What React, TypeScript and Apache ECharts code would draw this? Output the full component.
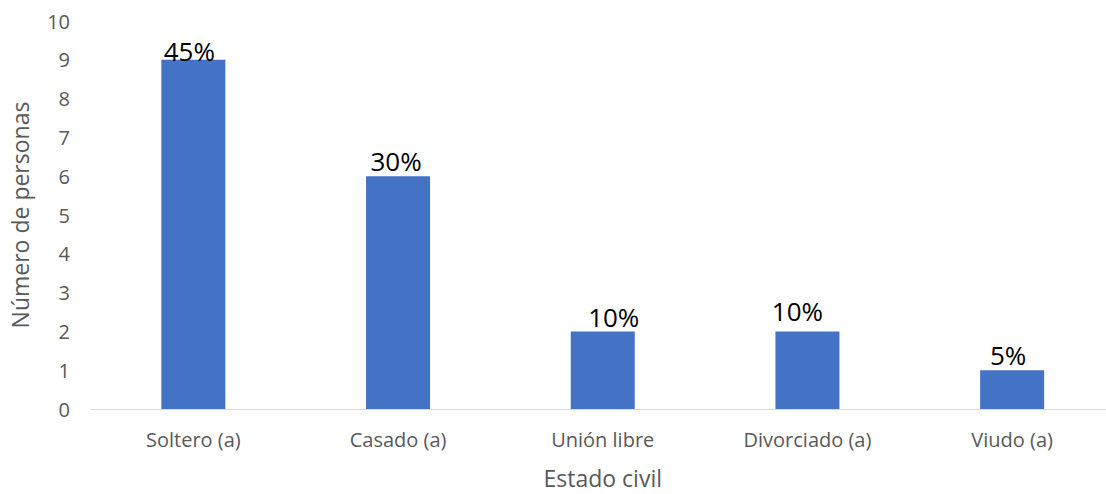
import React, { useEffect, useRef } from "react";
import * as echarts from "echarts";

const categories = ["Soltero (a)", "Casado (a)", "Unión libre", "Divorciado (a)", "Viudo (a)"];
const counts = [9, 6, 2, 2, 1];
const percentLabels = ["45%", "30%", "10%", "10%", "5%"];
// label placement tweaks (style only)
const labelDx = [-4, -2, 11, -10, -4];
const labelDist = [-4, 2, 1, 7, 2];

export default function App() {
  const ref = useRef<HTMLDivElement>(null);
  useEffect(() => {
    const chart = echarts.init(ref.current!, null, { renderer: "svg" });
    chart.setOption({
      animation: false,
      grid: { left: 89.5, right: 15.5, top: 21, bottom: 80, containLabel: false },
      xAxis: {
        type: "category",
        data: categories,
        name: "Estado civil",
        nameLocation: "middle",
        nameGap: 57,
        nameTextStyle: { fontFamily: "Open Sans", fontSize: 23, color: "#595959" },
        axisLine: { show: true, lineStyle: { color: "#d9d9d9", width: 1 } },
        axisTick: { show: false },
        axisLabel: { fontFamily: "Open Sans", fontSize: 20, color: "#595959", margin: 20 },
      },
      yAxis: {
        type: "value",
        min: 0,
        max: 10,
        interval: 1,
        name: "Número de personas",
        nameLocation: "middle",
        nameGap: 60,
        nameTextStyle: { fontFamily: "Open Sans", fontSize: 23, color: "#595959" },
        axisLine: { show: false },
        axisTick: { show: false },
        splitLine: { show: false },
        axisLabel: { fontFamily: "Open Sans", fontSize: 20, color: "#595959", margin: 21 },
      },
      series: [
        {
          type: "bar",
          data: counts.map((v, i) => ({
            value: v,
            label: { distance: labelDist[i], offset: [labelDx[i], 0] },
          })),
          barWidth: 64,
          itemStyle: { color: "#4472C4" },
          label: {
            show: true,
            position: "top",
            fontFamily: "Open Sans",
            fontSize: 26,
            color: "#000000",
            formatter: (p: any) => percentLabels[p.dataIndex],
          },
        },
      ],
    });
    return () => chart.dispose();
  }, []);
  return (
    <div style={{ position: "absolute", left: 0, top: 0, width: 1106, height: 494, overflow: "hidden", background: "#fff" }}>
      <div ref={ref} style={{ position: "absolute", left: 0, top: 0, width: 1130, height: 494 }} />
    </div>
  );
}
